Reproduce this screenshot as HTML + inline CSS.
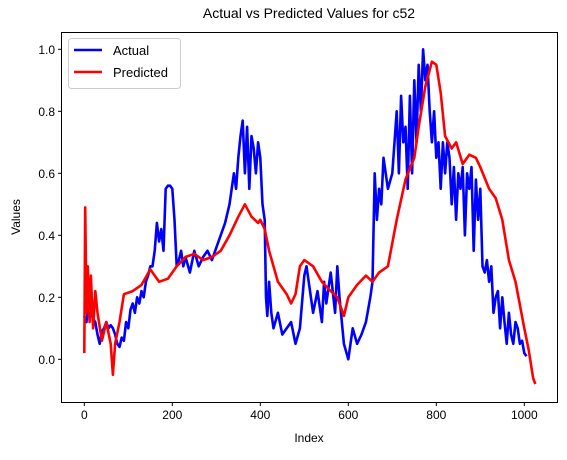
<!DOCTYPE html>
<html><head><meta charset="utf-8"><style>
body{margin:0;background:#fff;}
svg{font-family:"Liberation Sans","DejaVu Sans",sans-serif;}
</style></head><body>
<svg id="chart" width="567" height="455" viewBox="0 0 567 455">
<text x="309" y="18" text-anchor="middle" font-size="14" fill="#000">Actual vs Predicted Values for c52</text>
<g id="plot"></g>
<rect x="61.5" y="32.5" width="496" height="370" fill="none" stroke="#000" stroke-width="1"/>
<text x="309" y="442" text-anchor="middle" font-size="12">Index</text>
<text x="20" y="217" text-anchor="middle" font-size="12" transform="rotate(-90 20 217)">Values</text>
<g id="xticks"></g><g id="yticks"></g>
<g>
<rect x="68.5" y="38.5" width="112" height="50" rx="3" fill="#fff" fill-opacity="0.8" stroke="#ccc"/>
<line x1="74" y1="50" x2="102" y2="50" stroke="blue" stroke-width="2.6"/>
<text x="113" y="55" font-size="13">Actual</text>
<line x1="74" y1="72" x2="102" y2="72" stroke="red" stroke-width="2.6"/>
<text x="113" y="77" font-size="13">Predicted</text>
</g>
</svg>
<script>
const actualIdx=[0,5,10,15,20,25,30,35,40,45,50,55,60,65,70,75,80,85,90,95,100,105,110,115,120,125,130,135,140,145,150,155,160,165,170,175,180,185,190,195,200,205,210,215,220,225,230,240,250,260,270,280,290,300,310,320,330,335,340,345,350,355,360,365,370,375,380,385,390,395,400,405,410,413,416,420,425,430,440,450,460,470,480,490,500,505,510,520,530,540,545,550,560,570,575,580,590,600,605,610,620,630,640,650,655,660,665,670,675,680,690,700,705,710,715,720,725,730,735,740,745,750,755,760,765,770,775,780,785,790,795,800,805,810,815,820,825,830,835,840,845,850,855,860,865,870,875,880,885,890,895,900,905,910,915,920,925,930,935,940,945,950,955,960,965,970,975,980,985,990,995,1000,1005,1010,1015,1020];
const actualVal=[0.14,0.12,0.18,0.15,0.13,0.12,0.08,0.05,0.09,0.1,0.12,0.1,0.11,0.1,0.08,0.05,0.04,0.07,0.06,0.12,0.1,0.16,0.18,0.15,0.2,0.18,0.22,0.2,0.25,0.27,0.3,0.3,0.35,0.44,0.38,0.42,0.35,0.55,0.56,0.56,0.55,0.45,0.3,0.32,0.35,0.3,0.33,0.28,0.35,0.3,0.33,0.35,0.32,0.36,0.4,0.44,0.5,0.55,0.6,0.55,0.65,0.72,0.77,0.6,0.75,0.55,0.72,0.68,0.6,0.7,0.65,0.5,0.45,0.2,0.14,0.25,0.15,0.1,0.15,0.08,0.1,0.12,0.05,0.1,0.27,0.3,0.25,0.15,0.22,0.12,0.25,0.18,0.28,0.15,0.3,0.2,0.05,0.0,0.05,0.1,0.05,0.08,0.12,0.2,0.25,0.6,0.45,0.55,0.5,0.65,0.55,0.6,0.7,0.8,0.6,0.85,0.7,0.75,0.55,0.85,0.6,0.9,0.7,0.95,0.8,1.0,0.9,0.95,0.8,0.7,0.8,0.65,0.7,0.55,0.7,0.6,0.7,0.65,0.5,0.62,0.45,0.6,0.55,0.62,0.4,0.6,0.55,0.62,0.35,0.58,0.45,0.55,0.3,0.28,0.32,0.25,0.3,0.15,0.2,0.22,0.1,0.2,0.12,0.05,0.15,0.08,0.05,0.12,0.1,0.05,0.06,0.02,0.01];
const predIdx=[0,2,5,8,12,15,20,25,30,40,50,60,65,70,80,90,110,130,150,160,170,190,210,230,250,270,290,310,330,350,365,380,395,400,410,420,440,460,470,480,490,500,520,540,560,575,590,600,620,640,655,670,690,710,730,750,760,775,790,800,810,820,835,845,860,875,890,900,920,935,950,965,980,1000,1010,1020,1025];
const predVal=[0.02,0.49,0.15,0.3,0.12,0.27,0.1,0.22,0.15,0.06,0.12,0.05,-0.05,0.05,0.12,0.21,0.22,0.24,0.29,0.27,0.25,0.26,0.3,0.33,0.34,0.32,0.33,0.35,0.4,0.46,0.5,0.46,0.44,0.45,0.42,0.35,0.25,0.21,0.18,0.21,0.3,0.32,0.3,0.25,0.22,0.2,0.14,0.2,0.24,0.27,0.25,0.28,0.3,0.45,0.58,0.65,0.75,0.88,0.96,0.95,0.86,0.72,0.68,0.7,0.63,0.66,0.65,0.62,0.55,0.52,0.45,0.32,0.25,0.1,0.03,-0.06,-0.08];
const xTicks=[0,200,400,600,800,1000];
const yTicks=[0.0,0.2,0.4,0.6,0.8,1.0];
const xs=v=>84.3+v*0.44;
const ys=v=>359.3-v*310;
const NS="http://www.w3.org/2000/svg";
const plot=document.getElementById('plot');
function line(ix,vals,color,name){
  const p=document.createElementNS(NS,'polyline');
  p.setAttribute('points',ix.map((x,i)=>xs(x).toFixed(1)+','+ys(vals[i]).toFixed(1)).join(' '));
  p.setAttribute('fill','none');p.setAttribute('stroke',color);p.setAttribute('stroke-width','2.6');p.setAttribute('stroke-linejoin','round');
  
  
  plot.appendChild(p);
}
line(actualIdx,actualVal,'blue','actual-line');
line(predIdx,predVal,'red','predicted-line');
const xt=document.getElementById('xticks');
xTicks.forEach(t=>{
  const l=document.createElementNS(NS,'line');
  l.setAttribute('x1',xs(t));l.setAttribute('x2',xs(t));l.setAttribute('y1',402.5);l.setAttribute('y2',406);l.setAttribute('stroke','#000');
  
  
  xt.appendChild(l);
  const tx=document.createElementNS(NS,'text');
  tx.setAttribute('x',xs(t));tx.setAttribute('y',419);tx.setAttribute('text-anchor','middle');tx.setAttribute('font-size','12');
  tx.textContent=t;
  
  
  xt.appendChild(tx);
});
const yt=document.getElementById('yticks');
yTicks.forEach(t=>{
  const l=document.createElementNS(NS,'line');
  l.setAttribute('x1',58);l.setAttribute('x2',61.5);l.setAttribute('y1',ys(t));l.setAttribute('y2',ys(t));l.setAttribute('stroke','#000');
  
  
  yt.appendChild(l);
  const tx=document.createElementNS(NS,'text');
  tx.setAttribute('x',55);tx.setAttribute('y',ys(t)+4.5);tx.setAttribute('text-anchor','end');tx.setAttribute('font-size','12');
  tx.textContent=t.toFixed(1);
  
  
  yt.appendChild(tx);
});
</script>
</body></html>
